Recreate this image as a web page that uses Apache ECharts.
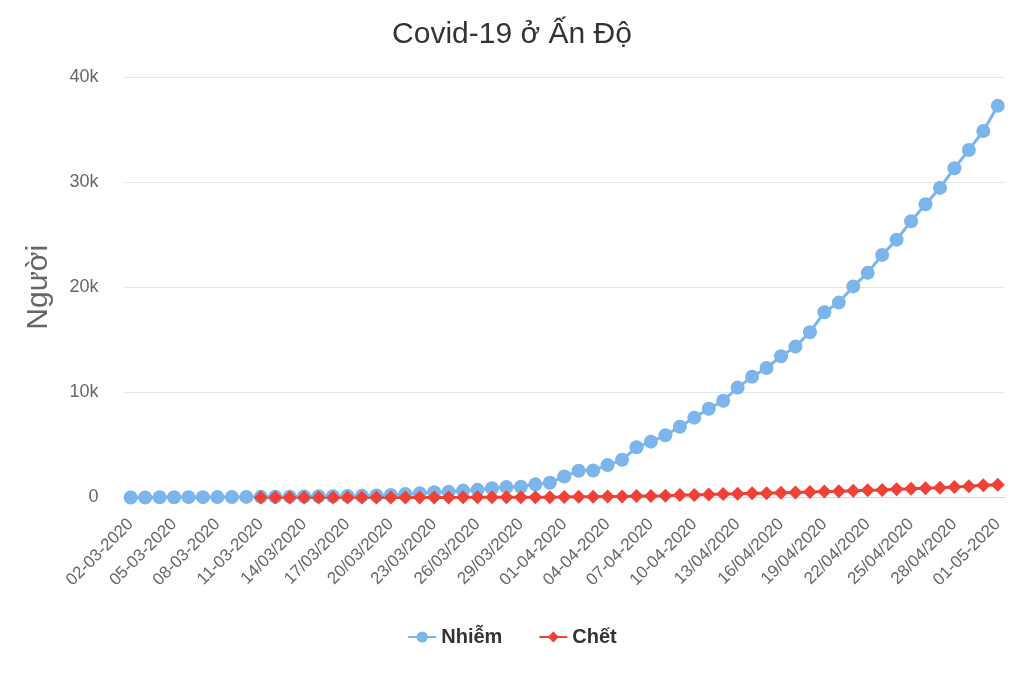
<!DOCTYPE html>
<html>
<head>
<meta charset="utf-8">
<title>Covid-19 ở Ấn Độ</title>
<script src="https://cdn.jsdelivr.net/npm/echarts@6/dist/echarts.min.js"></script>
<style>
  html, body { margin: 0; padding: 0; background: #fff; }
  #chart { width: 1024px; height: 683px; }
</style>
</head>
<body>
<div id="chart"></div>
<script>
  // ngày (nhãn trục x)
  var dates = [
    '02-03-2020', '03-03-2020', '04-03-2020', '05-03-2020', '06-03-2020', '07-03-2020',
    '08-03-2020', '09-03-2020', '10-03-2020', '11-03-2020', '12-03-2020', '13/03/2020',
    '14/03/2020', '15/03/2020', '16/03/2020', '17/03/2020', '18/03/2020', '19/03/2020',
    '20/03/2020', '21/03/2020', '22/03/2020', '23/03/2020', '24/03/2020', '25/03/2020',
    '26/03/2020', '27/03/2020', '28/03/2020', '29/03/2020', '30/03/2020', '31/03/2020',
    '01-04-2020', '02-04-2020', '03-04-2020', '04-04-2020', '05-04-2020', '06-04-2020',
    '07-04-2020', '08-04-2020', '09-04-2020', '10-04-2020', '11-04-2020', '12-04-2020',
    '13/04/2020', '14/04/2020', '15/04/2020', '16/04/2020', '17/04/2020', '18/04/2020',
    '19/04/2020', '20/04/2020', '21/04/2020', '22/04/2020', '23/04/2020', '24/04/2020',
    '25/04/2020', '26/04/2020', '27/04/2020', '28/04/2020', '29/04/2020', '30/04/2020',
    '01-05-2020'
  ];

  // số ca nhiễm
  var infected = [
    5, 5, 28, 30, 31, 34, 39, 43, 56, 62,
    73, 82, 102, 113, 119, 142, 156, 194, 244, 330,
    396, 499, 536, 657, 727, 887, 987, 1024, 1251, 1397,
    1998, 2543, 2567, 3082, 3588, 4778, 5311, 5916, 6725, 7598,
    8446, 9205, 10453, 11487, 12322, 13430, 14352, 15722, 17615, 18539,
    20080, 21370, 23077, 24530, 26283, 27890, 29451, 31324, 33062, 34863,
    37257
  ];

  // số ca tử vong (bắt đầu từ 11-03)
  var deaths = [
    '-', '-', '-', '-', '-', '-', '-', '-', '-',
    1, 1, 2, 2, 2, 2, 3, 3, 4, 5, 4, 7, 10, 10, 12, 20, 20, 24, 27, 32, 35,
    58, 72, 72, 86, 99, 136, 150, 178, 226, 246, 288, 331, 358, 393, 405,
    448, 486, 521, 559, 592, 645, 681, 721, 780, 825, 881, 939, 1008, 1079, 1154,
    1223
  ];

  var yTicks = [0, 10000, 20000, 30000, 40000];

  var myChart = echarts.init(document.getElementById('chart'));
  var font = "'Liberation Sans', Arial, sans-serif";

  var option = {
    backgroundColor: '#ffffff',
    animation: false,
    textStyle: { fontFamily: font },
    title: {
      text: 'Covid-19 ở Ấn Độ',
      left: 'center',
      top: 15,
      textStyle: { fontSize: 30, fontWeight: 'normal', color: '#333333', fontFamily: font }
    },
    legend: {
      top: 622,
      left: 'center',
      itemWidth: 28,
      itemHeight: 14,
      itemGap: 36,
      textStyle: { fontSize: 20, fontWeight: 'bold', color: '#333333', fontFamily: font },
      data: ['Nhiễm', 'Chết']
    },
    grid: {
      left: 123.5,
      right: 19,
      top: 77,
      bottom: 185.5
    },
    xAxis: {
      type: 'category',
      boundaryGap: true,
      data: dates,
      axisLine: { lineStyle: { color: '#ccd6eb', width: 1 } },
      axisTick: { show: false },
      axisLabel: {
        interval: 2,
        rotate: 45,
        margin: 24,
        fontSize: 17,
        color: '#666666',
        fontFamily: font
      }
    },
    yAxis: {
      type: 'value',
      min: yTicks[0],
      max: yTicks[yTicks.length - 1],
      interval: 10000,
      name: 'Người',
      nameLocation: 'middle',
      nameRotate: 90,
      nameGap: 70,
      nameTextStyle: { fontSize: 30, color: '#666666', fontFamily: font },
      axisLine: { show: false },
      axisTick: { show: false },
      splitLine: { lineStyle: { color: '#e6e6e6', width: 1 } },
      axisLabel: {
        margin: 25,
        fontSize: 18,
        color: '#666666',
        fontFamily: font,
        padding: [6, 0, 0, 0],
        formatter: function (v) { return v === 0 ? '0' : (v / 1000) + 'k'; }
      }
    },
    series: [
      {
        name: 'Nhiễm',
        type: 'line',
        data: infected,
        symbol: 'circle',
        symbolSize: 14,
        showAllSymbol: true,
        itemStyle: { color: '#7cb5ec' },
        lineStyle: { color: '#7cb5ec', width: 3 }
      },
      {
        name: 'Chết',
        type: 'line',
        data: deaths,
        symbol: 'diamond',
        symbolSize: 14,
        showAllSymbol: true,
        itemStyle: { color: '#ef4136' },
        lineStyle: { color: '#ef4136', width: 3 }
      }
    ]
  };

  myChart.setOption(option);
  window.onresize = function () {
    myChart.resize();
  };
</script>
</body>
</html>
